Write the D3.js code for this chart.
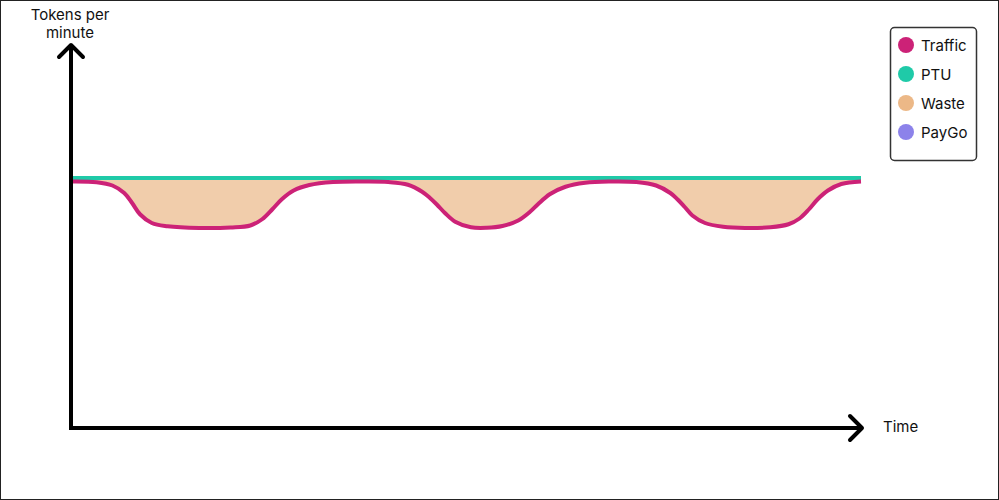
<!DOCTYPE html>
<html><head><meta charset="utf-8">
<script src="https://cdn.jsdelivr.net/npm/d3@7"></script>
<style>
html,body{margin:0;padding:0;background:#fff;}
svg{display:block;font-family:Inter,"Noto Sans",sans-serif;}
</style></head><body>
<script>
// Data (time in arbitrary units 0..100, tokens per minute relative units)
const time    = [0, 3, 5, 6.5, 7.5, 8.5, 10, 12, 16, 20, 22.5, 24, 25.3, 26.5, 28, 30, 33, 37,
                 40, 42.5, 44.3, 45.3, 46.2, 47.2, 48.5, 50.5, 52.5, 54.5, 56.5, 58, 59, 60.5, 62.5, 65, 68,
                 71.5, 74, 75.8, 76.7, 77.6, 78.6, 80.2, 82.5, 85.3, 88.5, 90.8, 92.2, 93.4, 94.5, 95.8, 97.5, 100];
const traffic = [98.6, 98.3, 97, 94, 90, 85.5, 82, 80.7, 80, 80.2, 81, 83.5, 87.5, 91.5, 95, 97.2, 98.4, 98.6,
                 98.4, 97.3, 94.5, 92, 89.3, 86, 82.5, 80.3, 80.1, 80.8, 83, 86.5, 89.5, 93.5, 96.5, 98.1, 98.6,
                 98.4, 97, 94, 91.5, 88.5, 85, 82, 80.5, 80, 80.3, 81.5, 83.8, 87.5, 91.5, 95, 97.6, 98.6];
const ptu = 100;
const legendLabels = ["Traffic", "PTU", "Waste", "PayGo"];
const legendColors = ["#cc2277", "#1fcaa8", "#ecb887", "#8c82ea"];
const axisLabels = {y: ["Tokens per", "minute"], x: "Time"};

const W = 999, H = 500;
const svg = d3.select("body").append("svg").attr("width", W).attr("height", H);
svg.append("rect").attr("x",0.5).attr("y",0.5).attr("width",W-1).attr("height",H-1)
  .attr("fill","#fff").attr("stroke","#222").attr("stroke-width",1);

const x = d3.scaleLinear().domain([0,100]).range([73,861]);
const y = d3.scaleLinear().domain([0,100]).range([428,178]);

const data = time.map((t,i)=>({t, v: traffic[i]}));
const curve = d3.curveCatmullRom.alpha(0.5);

// Waste area
svg.append("path").datum(data)
  .attr("fill","#f1cdab")
  .attr("d", d3.area().x(d=>x(d.t)).y0(y(ptu)).y1(d=>y(d.v)).curve(curve));

// PTU line
svg.append("line").attr("x1",x(0)).attr("x2",x(100)).attr("y1",y(ptu)).attr("y2",y(ptu))
  .attr("stroke","#1fcaa8").attr("stroke-width",4);

// Traffic line
svg.append("path").datum(data)
  .attr("fill","none").attr("stroke","#cc2277").attr("stroke-width",4)
  .attr("d", d3.line().x(d=>x(d.t)).y(d=>y(d.v)).curve(curve));

// Axes
const ax = svg.append("g").attr("stroke","#000").attr("stroke-width",4).attr("fill","none")
  .attr("stroke-linecap","round").attr("stroke-linejoin","round");
const ox = 71, oy = 428;
ax.append("path").attr("d", `M${ox},46 L${ox},${oy} L862,${oy}`).attr("stroke-linecap","butt").attr("stroke-linejoin","miter");
ax.append("path").attr("d", `M59,57 L${ox},45 L83,57`);
ax.append("path").attr("d", `M850,416 L862,${oy} L850,440`);

// Axis labels
const yl = svg.append("text").attr("x",70).attr("font-size",15).attr("font-weight",400)
  .attr("text-anchor","middle").attr("fill","#111");
yl.selectAll("tspan").data(axisLabels.y).join("tspan").attr("x",70)
  .attr("y",(d,i)=>20+i*18).text(d=>d);
svg.append("text").attr("x",883).attr("y",432).attr("font-size",15).attr("font-weight",400)
  .attr("fill","#111").text(axisLabels.x);

// Legend
const lg = svg.append("g");
lg.append("rect").attr("x",890.5).attr("y",27.5).attr("width",86).attr("height",133).attr("rx",4)
  .attr("fill","#fff").attr("stroke","#333").attr("stroke-width",1.5);
const items = lg.selectAll("g.item").data(legendLabels).join("g").attr("class","item")
  .attr("transform",(d,i)=>`translate(906,${45+i*29})`);
items.append("circle").attr("r",8).attr("fill",(d,i)=>legendColors[i]);
items.append("text").attr("x",15).attr("y",5.5).attr("font-size",15).attr("font-weight",400)
  .attr("fill","#111").text(d=>d);
</script>
</body></html>
